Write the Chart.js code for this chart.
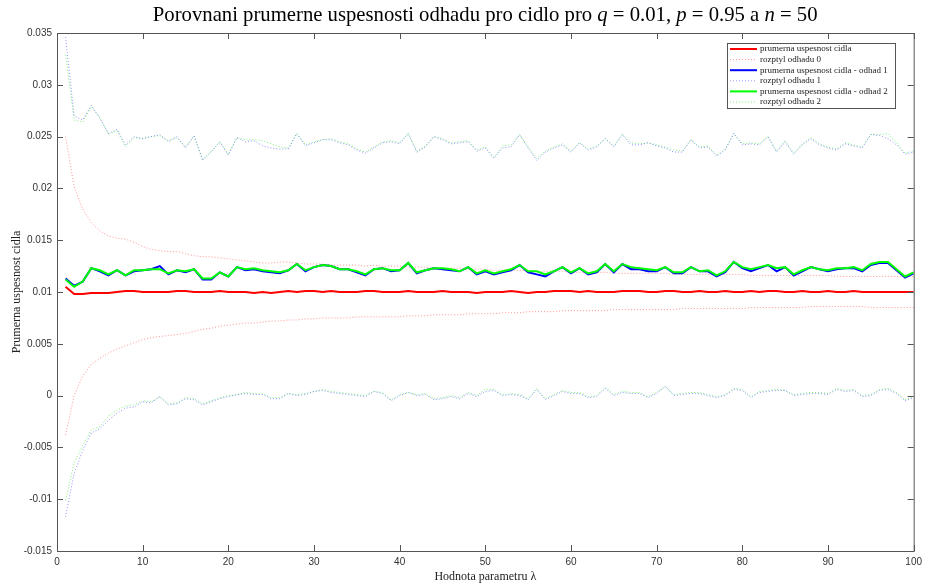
<!DOCTYPE html>
<html>
<head>
<meta charset="utf-8">
<script src="https://cdn.jsdelivr.net/npm/chart.js@4.4.0/dist/chart.umd.min.js"></script>
<style>
  html, body { margin: 0; padding: 0; background: #fff; }
  #wrap { width: 927px; height: 586px; }
</style>
</head>
<body>
<div id="wrap"><canvas id="chart" width="927" height="586"></canvas></div>
<script>
const lambdas = Array.from({ length: 100 }, (_, i) => i + 1);
const yTicks = [-0.015, -0.01, -0.005, 0, 0.005, 0.01, 0.015, 0.02, 0.025, 0.03, 0.035];
const xTicks = [0, 10, 20, 30, 40, 50, 60, 70, 80, 90, 100];

const seriesLabels = [
  "prumerna uspesnost cidla",
  "rozptyl odhadu 0",
  "prumerna uspesnost cidla - odhad 1",
  "rozptyl odhadu 1",
  "prumerna uspesnost cidla - odhad 2",
  "rozptyl odhadu 2",
];

const redMean = [
  0.0105, 0.0098, 0.0098, 0.0099, 0.0099, 0.0099, 0.0100, 0.0101, 0.0101, 0.0100,
  0.0100, 0.0100, 0.0100, 0.0101, 0.0101, 0.0100, 0.0100, 0.0100, 0.0101, 0.0100,
  0.0100, 0.0100, 0.0099, 0.0100, 0.0099, 0.0100, 0.0101, 0.0100, 0.0101, 0.0101,
  0.0100, 0.0101, 0.0100, 0.0100, 0.0100, 0.0101, 0.0101, 0.0100, 0.0100, 0.0100,
  0.0101, 0.0100, 0.0100, 0.0100, 0.0101, 0.0100, 0.0100, 0.0100, 0.0099, 0.0100,
  0.0100, 0.0100, 0.0101, 0.0100, 0.0099, 0.0100, 0.0100, 0.0101, 0.0101, 0.0101,
  0.0100, 0.0101, 0.0100, 0.0100, 0.0100, 0.0101, 0.0101, 0.0101, 0.0100, 0.0100,
  0.0101, 0.0101, 0.0100, 0.0100, 0.0101, 0.0100, 0.0100, 0.0101, 0.0100, 0.0100,
  0.0101, 0.0100, 0.0101, 0.0101, 0.0100, 0.0100, 0.0101, 0.0100, 0.0100, 0.0101,
  0.0100, 0.0100, 0.0101, 0.0100, 0.0100, 0.0100, 0.0100, 0.0100, 0.0100, 0.0100,
];
const redUpper = [
  0.0250, 0.0202, 0.0180, 0.0167, 0.0159, 0.0154, 0.0152, 0.0151, 0.0148, 0.0144,
  0.0141, 0.0140, 0.0139, 0.0139, 0.0137, 0.0135, 0.0134, 0.0134, 0.0133, 0.0132,
  0.0131, 0.0130, 0.0129, 0.0128, 0.0128, 0.0129, 0.0129, 0.0128, 0.0127, 0.0127,
  0.0127, 0.0126, 0.0126, 0.0126, 0.0126, 0.0125, 0.0126, 0.0125, 0.0125, 0.0125,
  0.0124, 0.0124, 0.0124, 0.0123, 0.0123, 0.0123, 0.0123, 0.0122, 0.0122, 0.0122,
  0.0121, 0.0121, 0.0121, 0.0121, 0.0120, 0.0120, 0.0120, 0.0120, 0.0120, 0.0119,
  0.0119, 0.0119, 0.0119, 0.0119, 0.0118, 0.0118, 0.0118, 0.0118, 0.0118, 0.0118,
  0.0118, 0.0117, 0.0117, 0.0117, 0.0117, 0.0117, 0.0117, 0.0117, 0.0117, 0.0117,
  0.0116, 0.0116, 0.0116, 0.0116, 0.0116, 0.0116, 0.0116, 0.0116, 0.0116, 0.0116,
  0.0115, 0.0115, 0.0115, 0.0115, 0.0115, 0.0115, 0.0115, 0.0115, 0.0115, 0.0115,
];
const redLower = [
  -0.0038, 0.0000, 0.0019, 0.0030, 0.0036, 0.0041, 0.0045, 0.0048, 0.0051, 0.0054,
  0.0056, 0.0057, 0.0058, 0.0059, 0.0060, 0.0062, 0.0064, 0.0065, 0.0067, 0.0068,
  0.0069, 0.0070, 0.0070, 0.0071, 0.0072, 0.0072, 0.0073, 0.0073, 0.0074, 0.0074,
  0.0075, 0.0075, 0.0075, 0.0075, 0.0076, 0.0076, 0.0076, 0.0076, 0.0076, 0.0076,
  0.0077, 0.0077, 0.0077, 0.0078, 0.0078, 0.0078, 0.0078, 0.0079, 0.0079, 0.0079,
  0.0079, 0.0080, 0.0080, 0.0080, 0.0081, 0.0081, 0.0081, 0.0081, 0.0082, 0.0082,
  0.0082, 0.0082, 0.0082, 0.0082, 0.0083, 0.0083, 0.0083, 0.0083, 0.0083, 0.0083,
  0.0083, 0.0083, 0.0084, 0.0084, 0.0084, 0.0084, 0.0084, 0.0084, 0.0084, 0.0084,
  0.0085, 0.0085, 0.0085, 0.0085, 0.0085, 0.0085, 0.0085, 0.0086, 0.0086, 0.0086,
  0.0086, 0.0086, 0.0086, 0.0086, 0.0085, 0.0085, 0.0085, 0.0085, 0.0085, 0.0085,
];
const blueMean = [
  0.0113, 0.0106, 0.0110, 0.0123, 0.0120, 0.0116, 0.0121, 0.0116, 0.0120, 0.0121,
  0.0122, 0.0125, 0.0117, 0.0121, 0.0119, 0.0122, 0.0112, 0.0112, 0.0119, 0.0115,
  0.0124, 0.0121, 0.0122, 0.0120, 0.0119, 0.0118, 0.0121, 0.0127, 0.0120, 0.0124,
  0.0126, 0.0125, 0.0122, 0.0122, 0.0119, 0.0116, 0.0122, 0.0123, 0.0120, 0.0121,
  0.0128, 0.0118, 0.0121, 0.0123, 0.0122, 0.0121, 0.0120, 0.0124, 0.0117, 0.0120,
  0.0117, 0.0119, 0.0121, 0.0126, 0.0119, 0.0117, 0.0115, 0.0120, 0.0124, 0.0118,
  0.0123, 0.0117, 0.0119, 0.0127, 0.0119, 0.0127, 0.0122, 0.0122, 0.0120, 0.0120,
  0.0124, 0.0118, 0.0118, 0.0124, 0.0120, 0.0120, 0.0115, 0.0119, 0.0129, 0.0123,
  0.0120, 0.0123, 0.0126, 0.0120, 0.0124, 0.0116, 0.0120, 0.0124, 0.0122, 0.0120,
  0.0122, 0.0123, 0.0123, 0.0120, 0.0126, 0.0128, 0.0128, 0.0121, 0.0114, 0.0118,
];
const blueUpper = [
  0.0346, 0.0270, 0.0266, 0.0280, 0.0268, 0.0253, 0.0257, 0.0242, 0.0250, 0.0248,
  0.0250, 0.0252, 0.0245, 0.0250, 0.0239, 0.0251, 0.0227, 0.0235, 0.0245, 0.0232,
  0.0249, 0.0245, 0.0246, 0.0241, 0.0239, 0.0238, 0.0238, 0.0253, 0.0241, 0.0244,
  0.0247, 0.0247, 0.0244, 0.0242, 0.0237, 0.0234, 0.0239, 0.0244, 0.0245, 0.0243,
  0.0253, 0.0235, 0.0240, 0.0250, 0.0247, 0.0243, 0.0244, 0.0245, 0.0236, 0.0239,
  0.0229, 0.0239, 0.0240, 0.0252, 0.0239, 0.0227, 0.0235, 0.0239, 0.0242, 0.0235,
  0.0244, 0.0237, 0.0240, 0.0248, 0.0240, 0.0252, 0.0242, 0.0242, 0.0244, 0.0241,
  0.0239, 0.0235, 0.0235, 0.0247, 0.0239, 0.0240, 0.0231, 0.0237, 0.0253, 0.0242,
  0.0243, 0.0242, 0.0250, 0.0235, 0.0245, 0.0233, 0.0242, 0.0248, 0.0242, 0.0239,
  0.0237, 0.0243, 0.0241, 0.0239, 0.0252, 0.0251, 0.0248, 0.0242, 0.0233, 0.0235,
];
const blueLower = [
  -0.0117, -0.0075, -0.0053, -0.0036, -0.0032, -0.0024, -0.0017, -0.0012, -0.0011, -0.0006,
  -0.0007, -0.0001, -0.0009, -0.0008, -0.0003, -0.0004, -0.0009, -0.0006, -0.0003, -0.0001,
  0.0001, 0.0002, 0.0001, 0.0001, -0.0003, -0.0003, 0.0002, 0.0000, 0.0001, 0.0004,
  0.0005, 0.0003, 0.0002, 0.0001, 0.0000, -0.0001, 0.0004, 0.0002, -0.0005, 0.0000,
  0.0003, 0.0000, 0.0001, -0.0004, -0.0003, -0.0001, -0.0003, 0.0002, -0.0001, 0.0004,
  0.0005, 0.0000, 0.0001, 0.0000, -0.0004, 0.0006, -0.0004, 0.0000, 0.0004, 0.0002,
  0.0002, -0.0002, -0.0001, 0.0007, 0.0000, 0.0003, 0.0002, 0.0002, -0.0002, 0.0002,
  0.0009, 0.0000, 0.0001, 0.0002, 0.0002, 0.0000, -0.0002, 0.0000, 0.0006, 0.0005,
  -0.0002, 0.0003, 0.0004, 0.0005, 0.0005, 0.0000, 0.0001, 0.0002, 0.0002, 0.0001,
  0.0006, 0.0004, 0.0005, -0.0001, 0.0000, 0.0005, 0.0006, 0.0002, -0.0005, -0.0002,
];
const greenMean = [
  0.0112, 0.0105, 0.0110, 0.0123, 0.0121, 0.0117, 0.0121, 0.0116, 0.0121, 0.0121,
  0.0122, 0.0122, 0.0118, 0.0121, 0.0120, 0.0122, 0.0113, 0.0113, 0.0119, 0.0115,
  0.0124, 0.0122, 0.0123, 0.0121, 0.0120, 0.0119, 0.0121, 0.0127, 0.0121, 0.0124,
  0.0126, 0.0125, 0.0122, 0.0122, 0.0120, 0.0117, 0.0122, 0.0123, 0.0121, 0.0121,
  0.0128, 0.0119, 0.0121, 0.0123, 0.0123, 0.0122, 0.0120, 0.0124, 0.0118, 0.0121,
  0.0118, 0.0120, 0.0122, 0.0126, 0.0120, 0.0120, 0.0117, 0.0120, 0.0124, 0.0119,
  0.0123, 0.0118, 0.0120, 0.0127, 0.0120, 0.0127, 0.0124, 0.0123, 0.0122, 0.0121,
  0.0124, 0.0119, 0.0119, 0.0124, 0.0120, 0.0121, 0.0116, 0.0120, 0.0129, 0.0124,
  0.0122, 0.0124, 0.0126, 0.0123, 0.0124, 0.0117, 0.0121, 0.0124, 0.0122, 0.0121,
  0.0123, 0.0123, 0.0124, 0.0121, 0.0127, 0.0129, 0.0129, 0.0122, 0.0115, 0.0119,
];
const greenUpper = [
  0.0329, 0.0266, 0.0264, 0.0279, 0.0268, 0.0252, 0.0256, 0.0240, 0.0249, 0.0248,
  0.0250, 0.0251, 0.0246, 0.0249, 0.0240, 0.0250, 0.0228, 0.0236, 0.0245, 0.0233,
  0.0249, 0.0247, 0.0247, 0.0246, 0.0243, 0.0240, 0.0239, 0.0253, 0.0242, 0.0245,
  0.0247, 0.0248, 0.0245, 0.0243, 0.0238, 0.0235, 0.0240, 0.0245, 0.0246, 0.0244,
  0.0253, 0.0236, 0.0241, 0.0250, 0.0248, 0.0244, 0.0245, 0.0246, 0.0237, 0.0240,
  0.0230, 0.0241, 0.0242, 0.0252, 0.0240, 0.0229, 0.0236, 0.0240, 0.0243, 0.0236,
  0.0244, 0.0238, 0.0241, 0.0248, 0.0241, 0.0252, 0.0244, 0.0243, 0.0244, 0.0242,
  0.0240, 0.0237, 0.0236, 0.0247, 0.0240, 0.0241, 0.0232, 0.0238, 0.0253, 0.0243,
  0.0244, 0.0243, 0.0250, 0.0236, 0.0246, 0.0234, 0.0243, 0.0249, 0.0243, 0.0240,
  0.0238, 0.0244, 0.0242, 0.0240, 0.0252, 0.0252, 0.0253, 0.0244, 0.0234, 0.0236,
];
const greenLower = [
  -0.0101, -0.0065, -0.0048, -0.0033, -0.0030, -0.0020, -0.0014, -0.0010, -0.0009, -0.0005,
  -0.0006, -0.0001, -0.0008, -0.0007, -0.0002, -0.0003, -0.0008, -0.0005, -0.0002, 0.0000,
  0.0001, 0.0003, 0.0002, 0.0002, -0.0002, -0.0002, 0.0002, 0.0001, 0.0002, 0.0004,
  0.0006, 0.0004, 0.0003, 0.0002, 0.0001, 0.0000, 0.0004, 0.0003, -0.0004, 0.0001,
  0.0003, 0.0001, 0.0002, -0.0003, -0.0002, 0.0000, -0.0002, 0.0003, 0.0000, 0.0006,
  0.0006, 0.0001, 0.0002, 0.0001, -0.0003, 0.0007, -0.0003, 0.0001, 0.0005, 0.0003,
  0.0003, -0.0001, 0.0000, 0.0008, 0.0001, 0.0004, 0.0003, 0.0003, -0.0001, 0.0003,
  0.0009, 0.0001, 0.0002, 0.0003, 0.0003, 0.0001, -0.0001, 0.0001, 0.0007, 0.0006,
  -0.0001, 0.0004, 0.0005, 0.0006, 0.0005, 0.0001, 0.0002, 0.0003, 0.0003, 0.0002,
  0.0007, 0.0005, 0.0006, 0.0000, 0.0001, 0.0006, 0.0007, 0.0003, -0.0004, -0.0001,
];

const RED = "rgb(255, 0, 0)";
const BLUE = "rgb(0, 0, 255)";
const GREEN = "rgb(0, 255, 0)";
const RED_DOT = "rgba(255, 60, 60, 0.55)";
const BLUE_DOT = "rgba(60, 60, 255, 0.55)";
const GREEN_DOT = "rgba(40, 230, 40, 0.6)";

function solid(label, data, color) {
  return { label, data, borderColor: color, backgroundColor: color, borderWidth: 2, pointRadius: 0, tension: 0, fill: false };
}
function dotted(label, data, color, inLegend) {
  return { label, data, borderColor: color, backgroundColor: color, borderWidth: 1, borderDash: [1, 2], pointRadius: 0, tension: 0, fill: false, inLegend };
}
function toPoints(arr) {
  return arr.map((v, i) => ({ x: lambdas[i], y: v }));
}

const datasets = [
  solid(seriesLabels[0], toPoints(redMean), RED),
  dotted(seriesLabels[1], toPoints(redUpper), RED_DOT, true),
  dotted(seriesLabels[1], toPoints(redLower), RED_DOT, false),
  solid(seriesLabels[2], toPoints(blueMean), BLUE),
  dotted(seriesLabels[3], toPoints(blueUpper), BLUE_DOT, true),
  dotted(seriesLabels[3], toPoints(blueLower), BLUE_DOT, false),
  solid(seriesLabels[4], toPoints(greenMean), GREEN),
  dotted(seriesLabels[5], toPoints(greenUpper), GREEN_DOT, true),
  dotted(seriesLabels[5], toPoints(greenLower), GREEN_DOT, false),
];
// solid means on top of the dotted lines, green over blue
datasets.forEach((d) => { d.order = d.borderDash ? 10 : 1; });
datasets[6].order = 0;

const SERIF = "'Liberation Serif', 'DejaVu Serif', serif";
const SANS = "'Liberation Sans', Arial, sans-serif";

// title with italic q, p, n like the LaTeX one
const titleParts = [
  ["Porovnani prumerne uspesnosti odhadu pro cidlo pro ", false],
  ["q", true], [" = 0.01, ", false],
  ["p", true], [" = 0.95 a ", false],
  ["n", true], [" = 50", false],
];

const matlabFrame = {
  id: "matlabFrame",
  afterDraw(chart) {
    const { ctx, chartArea: a, scales } = chart;
    ctx.save();
    ctx.strokeStyle = "#555";
    ctx.lineWidth = 1;
    ctx.strokeRect(a.left + 0.5, a.top + 0.5, a.right - a.left, a.bottom - a.top);
    const t = 6;
    ctx.beginPath();
    xTicks.forEach((v) => {
      const x = Math.round(scales.x.getPixelForValue(v)) + 0.5;
      ctx.moveTo(x, a.bottom); ctx.lineTo(x, a.bottom - t);
      ctx.moveTo(x, a.top); ctx.lineTo(x, a.top + t);
    });
    yTicks.forEach((v) => {
      const y = Math.round(scales.y.getPixelForValue(v)) + 0.5;
      ctx.moveTo(a.left, y); ctx.lineTo(a.left + t, y);
      ctx.moveTo(a.right, y); ctx.lineTo(a.right - t, y);
    });
    ctx.stroke();

    // title, scaled to the width it has in the original
    const base = 20;
    const fontFor = (it, sz) => (it ? "italic " : "") + sz + "px " + SERIF;
    let total = 0;
    titleParts.forEach(([s, it]) => { ctx.font = fontFor(it, base); total += ctx.measureText(s).width; });
    const size = base * 665 / total;
    total = 665;
    let x = (a.left + a.right) / 2 - total / 2;
    ctx.fillStyle = "#000";
    ctx.textBaseline = "alphabetic";
    ctx.textAlign = "left";
    titleParts.forEach(([s, it]) => {
      ctx.font = fontFor(it, size);
      ctx.fillText(s, x, 21);
      x += ctx.measureText(s).width;
    });

    // legend box
    const entries = chart.data.datasets.filter((d) => d.borderDash ? d.inLegend : true);
    const bx = 727, by = 43, bw = 168, bh = 65;
    ctx.fillStyle = "#fff";
    ctx.fillRect(bx, by, bw, bh);
    ctx.strokeStyle = "#555";
    ctx.strokeRect(bx + 0.5, by + 0.5, bw, bh);
    ctx.font = "9px " + SERIF;
    ctx.textBaseline = "middle";
    entries.forEach((d, i) => {
      const y = by + 6 + i * 10.6;
      ctx.save();
      ctx.strokeStyle = d.borderColor;
      ctx.lineWidth = d.borderWidth;
      ctx.setLineDash(d.borderDash || []);
      ctx.beginPath();
      ctx.moveTo(bx + 3, y); ctx.lineTo(bx + 30, y);
      ctx.stroke();
      ctx.restore();
      ctx.fillStyle = "#222";
      ctx.fillText(d.label, bx + 33, y);
    });
    ctx.restore();
  },
};

new Chart(document.getElementById("chart").getContext("2d"), {
  type: "line",
  data: { datasets },
  options: {
    responsive: false,
    animation: false,
    layout: { padding: { top: 33, right: 9, left: 0, bottom: 0 } },
    plugins: { legend: { display: false }, title: { display: false }, tooltip: { enabled: false } },
    scales: {
      x: {
        type: "linear", min: 0, max: 100,
        afterBuildTicks: (s) => { s.ticks = xTicks.map((v) => ({ value: v })); },
        afterFit: (s) => { s.height = 35; },
        grid: { display: false, drawTicks: false },
        border: { display: false },
        ticks: { color: "#333", padding: 5, font: { family: SANS, size: 10 }, maxRotation: 0 },
        title: { display: true, text: "Hodnota parametru λ", color: "#222", padding: { top: 0, bottom: 2 }, font: { family: SERIF, size: 12 } },
      },
      y: {
        type: "linear", min: -0.015, max: 0.035,
        afterBuildTicks: (s) => { s.ticks = yTicks.map((v) => ({ value: v })); },
        afterFit: (s) => { s.width = 57; },
        grid: { display: false, drawTicks: false },
        border: { display: false },
        ticks: { color: "#333", padding: 5, font: { family: SANS, size: 10 }, callback: (v) => String(Number(v.toFixed(3))) },
        title: { display: true, text: "Prumerna uspesnost cidla", color: "#222", padding: { top: 10, bottom: 0 }, font: { family: SERIF, size: 12 } },
      },
    },
  },
  plugins: [matlabFrame],
});
</script>
</body>
</html>
